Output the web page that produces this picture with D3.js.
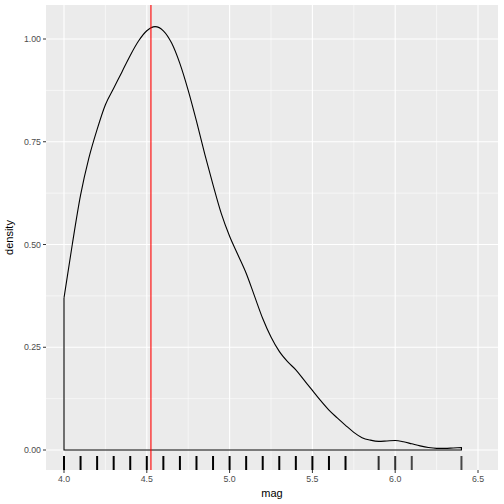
<!DOCTYPE html>
<html><head><meta charset="utf-8">
<script src="https://cdn.jsdelivr.net/npm/d3@7"></script>
<style>body{margin:0;background:#fff}text{font-family:"Liberation Sans",Arial,sans-serif}</style>
</head><body><svg id="c" width="504" height="504"></svg>
<script>
const densX=[4.0,4.05,4.1,4.15,4.2,4.25,4.3,4.35,4.4,4.45,4.5,4.55,4.6,4.65,4.7,4.75,4.8,4.85,4.9,4.95,5.0,5.05,5.1,5.15,5.2,5.25,5.3,5.35,5.4,5.45,5.5,5.55,5.6,5.65,5.7,5.75,5.8,5.85,5.9,5.95,6.0,6.05,6.1,6.15,6.2,6.25,6.3,6.35,6.4];
const densY=[0.37,0.50,0.62,0.71,0.78,0.84,0.88,0.92,0.96,0.995,1.02,1.03,1.02,0.99,0.94,0.875,0.80,0.72,0.645,0.575,0.52,0.475,0.43,0.375,0.32,0.275,0.24,0.215,0.195,0.17,0.145,0.12,0.097,0.078,0.06,0.043,0.03,0.024,0.021,0.022,0.023,0.02,0.015,0.01,0.006,0.004,0.004,0.005,0.006];
const rugX=[4.0,4.1,4.2,4.3,4.4,4.5,4.6,4.7,4.8,4.9,5.0,5.1,5.2,5.3,5.4,5.5,5.6,5.7,5.9,6.0,6.1,6.4];
const rugOpacity=[1,1,1,1,1,1,1,1,1,1,1,1,1,1,1,1,1,1,0.8,0.8,0.7,0.7];
const meanMag=4.525;
const xTicks=[4.0,4.5,5.0,5.5,6.0,6.5];
const yTicks=[0,0.25,0.5,0.75,1.0];

const svg=d3.select("#c");
const L=46,R=498,T=5,B=470;
const x=d3.scaleLinear().domain([4.0,6.5]).range([64,478]);
const y=d3.scaleLinear().domain([0,1]).range([450,39]);
svg.append("rect").attr("x",L).attr("y",T).attr("width",R-L).attr("height",B-T).attr("fill","#ebebeb");
[4.25,4.75,5.25,5.75,6.25].forEach(v=>svg.append("line").attr("x1",x(v)).attr("x2",x(v)).attr("y1",T).attr("y2",B).attr("stroke","#fff").attr("stroke-width",0.55));
[0.125,0.375,0.625,0.875].forEach(v=>svg.append("line").attr("y1",y(v)).attr("y2",y(v)).attr("x1",L).attr("x2",R).attr("stroke","#fff").attr("stroke-width",0.55));
xTicks.forEach(v=>svg.append("line").attr("x1",x(v)).attr("x2",x(v)).attr("y1",T).attr("y2",B).attr("stroke","#fff").attr("stroke-width",1.1));
yTicks.forEach(v=>svg.append("line").attr("y1",y(v)).attr("y2",y(v)).attr("x1",L).attr("x2",R).attr("stroke","#fff").attr("stroke-width",1.1));
const pts=densX.map((d,i)=>[d,densY[i]]);
const curve=d3.line().x(d=>x(d[0])).y(d=>y(d[1])).curve(d3.curveMonotoneX)(pts);
const base=d3.line().x(d=>x(d[0])).y(d=>y(d[1]))([[6.4,0.006],[6.4,0],[4.0,0],[4.0,0.37]]);
svg.append("path").attr("d",curve+base.replace(/^M/,"L")).attr("fill","none").attr("stroke","#000").attr("stroke-width",1.1);
rugX.forEach((v,i)=>svg.append("line").attr("x1",x(v)).attr("x2",x(v)).attr("y1",456).attr("y2",470).attr("stroke","#000").attr("stroke-opacity",rugOpacity[i]).attr("stroke-width",2));
svg.append("line").attr("x1",x(meanMag)).attr("x2",x(meanMag)).attr("y1",T).attr("y2",B).attr("stroke","red").attr("stroke-width",1.1);
xTicks.forEach(v=>{svg.append("line").attr("x1",x(v)).attr("x2",x(v)).attr("y1",B).attr("y2",B+3).attr("stroke","#333");
 svg.append("text").attr("x",x(v)).attr("y",B+12).attr("text-anchor","middle").attr("font-size",8.8).attr("fill","#4d4d4d").text(v.toFixed(1));});
yTicks.forEach(v=>{svg.append("line").attr("x1",L-3).attr("x2",L).attr("y1",y(v)).attr("y2",y(v)).attr("stroke","#333");
 svg.append("text").attr("x",L-5).attr("y",y(v)+3).attr("text-anchor","end").attr("font-size",8.8).attr("fill","#4d4d4d").text(v.toFixed(2));});
svg.append("text").attr("x",(L+R)/2).attr("y",497).attr("text-anchor","middle").attr("font-size",11).text("mag");
svg.append("text").attr("transform",`translate(13,${(T+B)/2}) rotate(-90)`).attr("text-anchor","middle").attr("font-size",11).text("density");
</script></body></html>
